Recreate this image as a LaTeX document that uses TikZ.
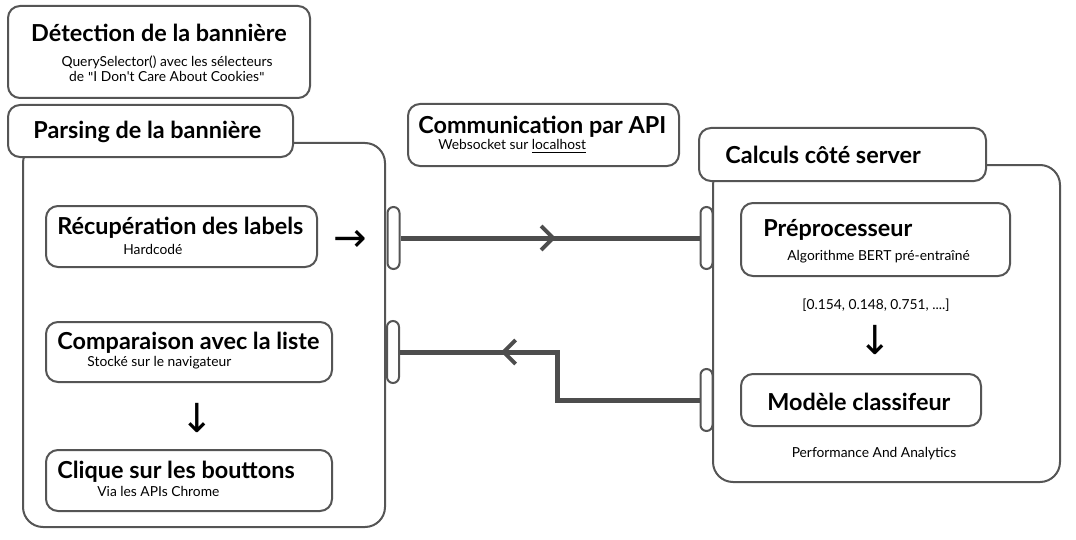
\documentclass[tikz,border=0pt]{standalone}
\usepackage{fontspec}
\setmainfont{Lato}
\newfontfamily\symfont{DejaVu Sans}
\usetikzlibrary{arrows.meta, decorations.markings}
\definecolor{Bcolor}{HTML}{555555}
\definecolor{Lcolor}{HTML}{4d4d4d}
\tikzstyle{box} = [rectangle, rounded corners=6pt, line width=1pt, draw=Bcolor, fill=white, inner sep=0pt]
\tikzstyle{group} = [rectangle, rounded corners=10pt, line width=1pt, draw=Bcolor, fill=white, inner sep=0pt]
\tikzstyle{port} = [rectangle, rounded corners=3pt, line width=1pt, draw=Bcolor, fill=white, inner sep=0pt, minimum width=6pt, minimum height=31pt]
\tikzstyle{title} = [anchor=west, inner sep=0pt, yshift=-0.75pt, font=\fontsize{11.7}{14}\selectfont\bfseries]
\tikzstyle{sub} = [anchor=west, inner sep=0pt, font=\fontsize{6.9}{7.5}\selectfont]
\tikzstyle{glyph} = [inner sep=0pt, font=\symfont\fontsize{20}{20}\selectfont]
\tikzstyle{link} = [line width=2.5pt, color=Lcolor]
\tikzset{flow/.style={postaction={decorate}, decoration={markings, mark=at position #1 with {\arrow[line width=2pt]{Straight Barb[length=6pt,width=12pt]}}}}}

\begin{document}
\begin{tikzpicture}[x=0.5pt, y=-0.5pt]
\useasboundingbox (0,0) rectangle (1076,540);

% detection
\node (detect) [box, minimum width=151pt, minimum height=46pt] at (159,52) {};
\node (detectT) [title, anchor=center] at (159,31.5) {Détection de la bannière};
\node (detectS) [sub, anchor=center, align=center] at (167,69) {QuerySelector() avec les sélecteurs\\de {\symfont\fontsize{6.2}{7.5}\selectfont\char"22}I Don\textquotesingle t Care About Cookies{\symfont\fontsize{6.2}{7.5}\selectfont\char"22}};

% parsing
\node (parsing) [group, minimum width=181pt, minimum height=192pt] at (204,335) {};
\node (parsingH) [box, minimum width=142.5pt, minimum height=26pt] at (150.5,131) {};
\node (parsingT) [title] at (33,130) {Parsing de la bannière};

\node (recup) [box, minimum width=135.5pt, minimum height=30.5pt] at (181.5,236.5) {};
\node (recupT) [title] at (57,226) {Récupération des labels};
\node (recupS) [sub] at (123,249) {Hardcodé};
\node (right1) [glyph] at (350,241) {→};

\node (compar) [box, minimum width=143pt, minimum height=30pt] at (189,352) {};
\node (comparT) [title] at (57,341) {Comparaison avec la liste};
\node (comparS) [sub] at (87,363) {Stocké sur le navigateur};
\node (down1) [glyph] at (197,418) {↓};

\node (clique) [box, minimum width=143pt, minimum height=30.5pt] at (189,480.5) {};
\node (cliqueT) [title] at (57,470) {Clique sur les bouttons};
\node (cliqueS) [sub] at (97,491) {Via les APIs Chrome};

% communication
\node (api) [box, minimum width=135.5pt, minimum height=31pt] at (543.5,135) {};
\node (apiT) [title] at (418,125) {Communication par API};
\node (apiS) [sub] at (438,146) {Websocket sur \underline{localhost}};

% server
\node (server) [group, minimum width=173.5pt, minimum height=158.5pt] at (886.5,323.5) {};
\node (serverH) [box, minimum width=143.5pt, minimum height=26.5pt] at (842.5,154.5) {};
\node (serverT) [title] at (725,153) {Calculs côté server};

\node (prep) [box, minimum width=134.5pt, minimum height=36.5pt] at (875.5,239.5) {};
\node (prepT) [title] at (763,228) {Préprocesseur};
\node (prepS) [sub] at (787,257) {Algorithme BERT pré-entraîné};
\node (vect) [sub, anchor=center] at (876,305) {[0.154, 0.148, 0.751, ....]};
\node (down2) [glyph] at (875,340) {↓};

\node (model) [box, minimum width=120pt, minimum height=26pt] at (861,400) {};
\node (modelT) [title] at (767,400) {Modèle classifeur};
\node (perf) [sub, anchor=center] at (874,454) {Performance And Analytics};

% ports
\node (p1) [port] at (393.5,238) {};
\node (p2) [port] at (393,352) {};
\node (p3) [port] at (706.5,238) {};
\node (p4) [port] at (706.5,400) {};

\coordinate (c1) at (557,400);
\coordinate (c2) at (557,352);
\draw [link, flow=0.52] (p1.east) -- (p3.west);
\draw [link, flow=0.71] (p4.west) -- (c1) -- (c2) -- (p2.east);

\end{tikzpicture}
\end{document}
